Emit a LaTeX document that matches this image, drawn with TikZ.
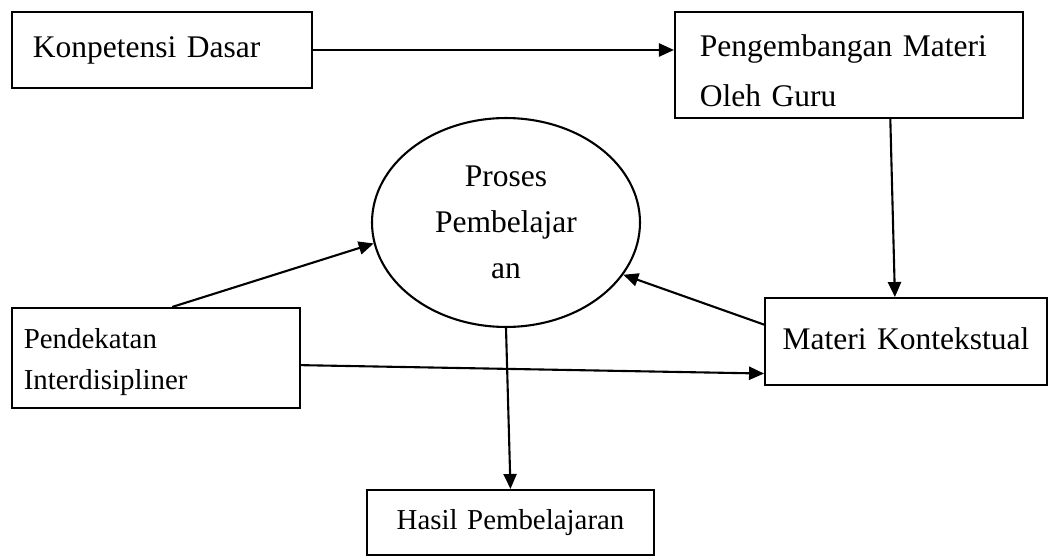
\documentclass[tikz,border=0pt]{standalone}
\usepackage{fontspec}
\setmainfont{Liberation Serif}
\usetikzlibrary{arrows.meta,positioning,shapes.geometric,calc}

\begin{document}
\begin{tikzpicture}[
  x=0.381pt, y=-0.381pt,
  font={\fontsize{12pt}{13.3pt}\selectfont},
  box/.style={draw, line width=0.8pt, align=left, inner ysep=0pt, inner xsep=8pt},
  proses/.style={draw, ellipse, line width=0.8pt, align=center, inner sep=0pt, minimum width=102.1pt, minimum height=79.6pt, font={\fontsize{12pt}{17.5pt}\selectfont}},
  arrow/.style={-{Triangle[length=5.7pt,width=5pt]}, line width=0.8pt}
]
  \useasboundingbox (0,0) rectangle (1057,559);

  \node[box, text width=98.3pt, minimum height=29pt] (kd) at (162,50) {Konpetensi Dasar};
  \node[box, inner xsep=9.5pt, text width=113.6pt, minimum height=40.4pt, text height=13pt, font={\fontsize{12pt}{19pt}\selectfont}] (peng) at (849,65) {Pengembangan Materi\\Oleh Guru};
  \node[proses] (pb) at (506,222.5) {Proses\\Pembelajar\\an};
  \node[box, inner xsep=4.5pt, text width=100.7pt, minimum height=38.1pt, text height=11pt, font={\fontsize{11pt}{15.6pt}\selectfont}] (pend) at (156,358) {Pendekatan\\Interdisipliner};
  \node[box, align=center, inner xsep=2pt, text width=103.4pt, minimum height=33.1pt, text depth=2.6pt] (mat) at (906,341.5) {Materi Kontekstual};
  \node[box, align=center, inner xsep=2pt, text width=105.3pt, minimum height=24.8pt, font={\fontsize{11pt}{13pt}\selectfont}] (hasil) at (510.5,522.5) {Hasil Pembelajaran};

  \draw[arrow] (kd.east) -- (kd.east -| peng.west);
  \draw[arrow] ($(peng.south west)!0.618!(peng.south east)$) -- ($(mat.north west)!0.461!(mat.north east)$);
  \draw[arrow] ($(mat.north west)!0.31!(mat.south west)$) -- (pb.336);
  \draw[arrow] ($(pend.north west)!0.556!(pend.north east)$) -- (pb.189);
  \draw[arrow] ($(pend.north east)!0.57!(pend.south east)$) -- ($(mat.north west)!0.86!(mat.south west)$);
  \draw[arrow] (pb.south) -- (hasil.north);
\end{tikzpicture}
\end{document}
